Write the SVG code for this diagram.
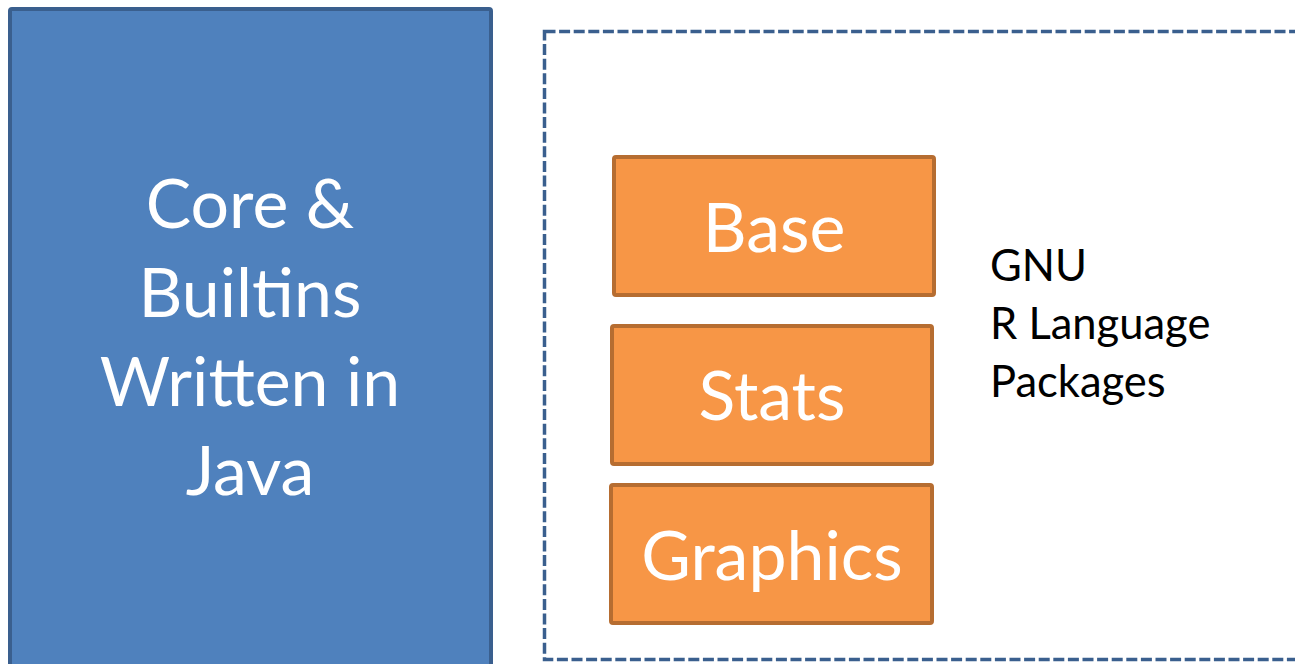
<svg xmlns="http://www.w3.org/2000/svg" width="1295" height="664" viewBox="0 0 1295 664">
  <style>
    .core { fill: #4f81bd; stroke: #3a5f8e; stroke-width: 4; }
    .pkg { fill: #f79646; stroke: #b66d31; stroke-width: 4; }
    .group { fill: none; stroke: #3a5f8e; stroke-width: 3.5; stroke-dasharray: 11 3.6; }
    .big { font-family: Lato, "Open Sans", sans-serif; font-size: 68px; fill: #ffffff; text-anchor: middle; }
    .note { font-family: Lato, "Open Sans", sans-serif; font-size: 43.5px; fill: #000000; }
  </style>
  <rect width="1295" height="664" fill="#ffffff"/>

  <!-- dashed container for the R packages -->
  <g id="packages-group">
    <rect class="group" x="544.5" y="31.5" width="800" height="628"/>
    <text class="note" x="990" y="281">GNU</text>
    <text class="note" x="990" y="339">R Language</text>
    <text class="note" x="990" y="397">Packages</text>
  </g>

  <g id="core">
    <rect class="core" x="10" y="9" width="481" height="660" rx="2"/>
    <text class="big" x="250" y="228">Core &amp;</text>
    <text class="big" x="250" y="317">Builtins</text>
    <text class="big" x="250" y="406">Written in</text>
    <text class="big" x="250" y="495">Java</text>
  </g>

  <g id="base">
    <rect class="pkg" x="614" y="157" width="320" height="138" rx="2"/>
    <text class="big" x="774" y="252">Base</text>
  </g>

  <g id="stats">
    <rect class="pkg" x="612" y="326" width="320" height="138" rx="2"/>
    <text class="big" x="772" y="420">Stats</text>
  </g>

  <g id="graphics">
    <rect class="pkg" x="611" y="485" width="321" height="138" rx="2"/>
    <text class="big" x="772" y="580">Graphics</text>
  </g>

  <g id="connectors"></g>
</svg>
